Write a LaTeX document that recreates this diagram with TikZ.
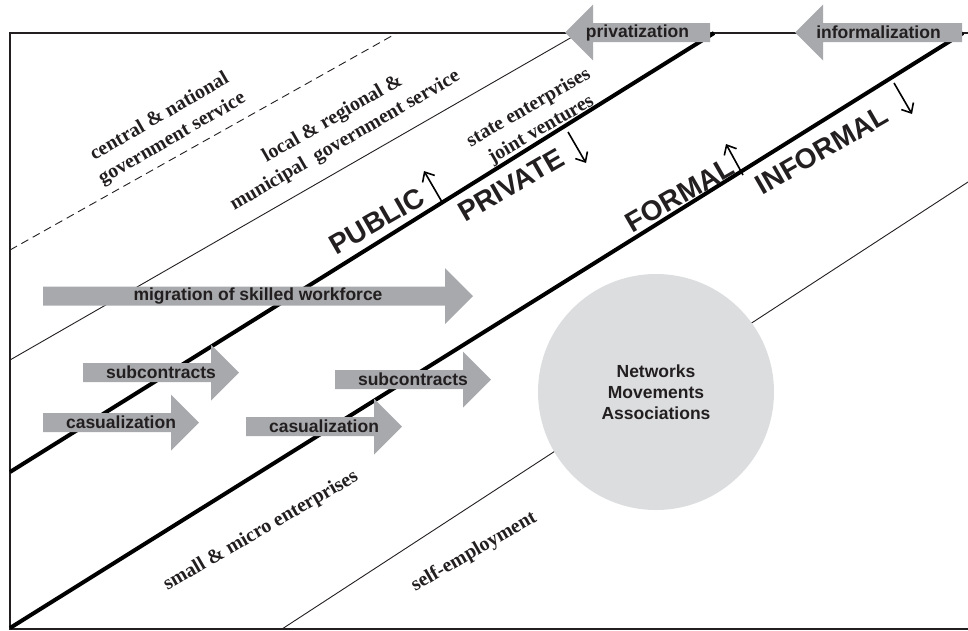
\documentclass[tikz,border=0pt]{standalone}
\usepackage{fontspec}
\setmainfont{Liberation Serif}
\setsansfont{Liberation Sans}
\usetikzlibrary{arrows.meta}
\definecolor{ink}{HTML}{231F20}
\definecolor{arrgray}{HTML}{A7A9AC}
\definecolor{circgray}{HTML}{DCDDDF}
\newcommand\blockarrow[5]{% name, x tail, x tip, y centre, text
  \pgfmathsetmacro\myheadbase{#3-28*sign(#3-#2)}
  \fill[arrfill] (#2,#4-9.5) -- (\myheadbase,#4-9.5) -- (\myheadbase,#4-28) -- (#3,#4)
     -- (\myheadbase,#4+28) -- (\myheadbase,#4+9.5) -- (#2,#4+9.5) -- cycle;
  \node[arrlabel] (#1) at ({(#2+#3)/2},#4) {#5};
}
\begin{document}
\begin{tikzpicture}[x=1pt,y=-1pt,
  frameline/.style={draw=ink, line width=1.2},
  thinline/.style={draw=ink, line width=0.9},
  thickline/.style={draw=black, line width=4},
  dashline/.style={draw=ink, line width=0.9, dash pattern=on 8pt off 5pt},
  arrfill/.style={fill=arrgray},
  arrlabel/.style={font=\sffamily\bfseries\fontsize{17.5}{21}\selectfont, text=ink, inner sep=0},
  biglabel/.style={font=\sffamily\bfseries\fontsize{28}{30}\selectfont, text=ink, rotate=30, inner sep=0},
  serlabel/.style={font=\bfseries\fontsize{20}{25}\selectfont, text=ink, rotate=30, align=center, inner sep=0},
  smallarr/.style={draw=black, line width=1.6, -{Straight Barb[length=8pt,width=14pt]}},
  hub/.style={circle, fill=circgray, minimum size=236pt, inner sep=0, align=center,
     font=\sffamily\bfseries\fontsize{17.5}{21}\selectfont, text=ink}
]
\useasboundingbox (0,0) rectangle (968,630);
% frame
\coordinate (tl) at (10,33);
\coordinate (tr) at (968,33);
\coordinate (bl) at (10,629);
\coordinate (br) at (968,629);
\draw[frameline] (tr) -- (tl) -- (bl) -- (br);
% diagonal boundaries
\coordinate (d1a) at (10,250);  \coordinate (d1b) at (397,33);
\coordinate (t1a) at (10,360);  \coordinate (t1b) at (579,33);
\coordinate (k1a) at (10,472);  \coordinate (k1b) at (714,33);
\coordinate (k2a) at (10,628);  \coordinate (k2b) at (963,33);
\coordinate (t2a) at (282,629); \coordinate (t2b) at (968,182);
\draw[dashline] (d1a) -- (d1b);
\draw[thinline] (t1a) -- (t1b);
\draw[thickline] (k1a) -- (k1b);
\draw[thickline] (k2a) -- (k2b);
\draw[thinline] (t2a) -- (t2b);
% circle
\node[hub] (nma) at (656,392) {Networks\\Movements\\Associations};
% block arrows
\blockarrow{priv}{710}{565}{32.5}{privatization}
\blockarrow{infl}{962}{795}{32.5}{informalization}
\blockarrow{migr}{43}{473}{296}{migration of skilled workforce}
\blockarrow{subA}{83}{239}{372.5}{subcontracts}
\blockarrow{casA}{43}{199}{422.5}{casualization}
\blockarrow{casB}{246}{402}{426.5}{casualization}
\blockarrow{subB}{335}{491}{379.5}{subcontracts}
% big labels
\node[biglabel] (public) at (377,221) {PUBLIC};
\node[biglabel] (private) at (511,185) {PRIVATE};
\node[biglabel] (formal) at (680,195) {FORMAL};
\node[biglabel] (informal) at (822,150) {INFORMAL};
% small direction arrows
\coordinate (pa1) at (442,202); \coordinate (pa2) at (424,171);
\coordinate (pb1) at (568,132); \coordinate (pb2) at (586,163);
\coordinate (fa1) at (743,175); \coordinate (fa2) at (726,144);
\coordinate (fb1) at (894,83);  \coordinate (fb2) at (912,114);
\draw[smallarr] (pa1) -- (pa2);
\draw[smallarr] (pb1) -- (pb2);
\draw[smallarr] (fa1) -- (fa2);
\draw[smallarr] (fb1) -- (fb2);
% serif labels
\node[serlabel] (central) at (166,128) {central \& national\\government service};
\node[serlabel] (local) at (339,130) {local \& regional \&\\municipal~ government service};
\node[serlabel] (state) at (535,119) {state enterprises\\joint ventures};
\node[serlabel] (small) at (261,531) {small \& micro enterprises};
\node[serlabel] (self) at (474,552) {self-employment};
\end{tikzpicture}
\end{document}
